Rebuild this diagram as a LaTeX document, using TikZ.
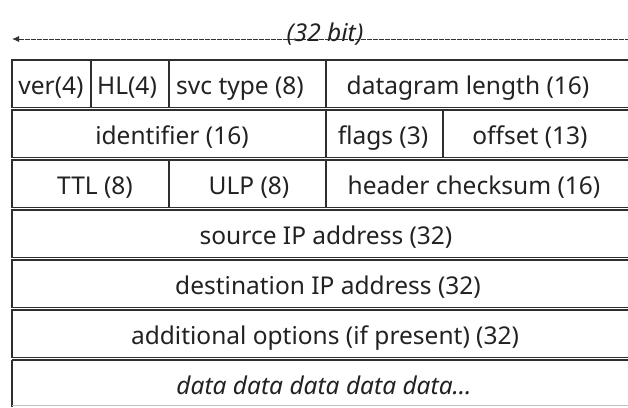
\documentclass[tikz,border=0pt]{standalone}
\usepackage{fontspec}
\setmainfont{Noto Sans}
\usetikzlibrary{arrows.meta}
\definecolor{linegray}{HTML}{2E2E2E}
\definecolor{textgray}{HTML}{222222}

\begin{document}
\begin{tikzpicture}[x=1pt, y=-1pt, font=\fontsize{24.5}{28}\selectfont]
	\tikzstyle{cell}=[draw=linegray, line width=1.2pt]
	\tikzstyle{lbl}=[anchor=base, inner sep=0pt, text=textgray]
	\tikzstyle{ruler}=[draw=black!80, line width=0.9pt, dash pattern=on 0.7pt off 0.5pt]
	\useasboundingbox (0,0) rectangle (628,407);

	% width ruler
	\coordinate (wl) at (12,39);
	\coordinate (wr) at (640,39);
	\draw[ruler, {Latex[length=7pt,width=6pt]}-{Latex[length=7pt,width=6pt]}] (wl) -- (wr);
	\node[lbl, font=\fontsize{24.5}{28}\selectfont\itshape] (bits) at (325,41) {(32 bit)};

	% rows
	\foreach \t in {60,110,...,310}
		\draw[cell] (12,\t) rectangle (640,\t+47.6);
	\draw[cell] (12,360) -- (640,360);
	\draw[cell] (12,360) -- (12,407);
	\draw[draw=black!25, line width=1.2pt] (12,405.5) -- (640,405.5);

	% field borders
	\draw[cell] (91,60) -- (91,107.6) (169,60) -- (169,107.6) (326,60) -- (326,107.6);
	\draw[cell] (326,110) -- (326,157.6) (443,110) -- (443,157.6);
	\draw[cell] (169,160) -- (169,207.6) (326,160) -- (326,207.6);

	% fields
	\node[lbl] (ver) at (51,94) {ver(4)};
	\node[lbl] (hl) at (127,94) {HL(4)};
	\node[lbl] (svc) at (240,94) {svc type (8)};
	\node[lbl] (dglen) at (468,94) {datagram length (16)};

	\node[lbl] (ident) at (172,144) {identifier (16)};
	\node[lbl] (flags) at (383,144) {flags (3)};
	\node[lbl] (offset) at (530,144) {offset (13)};

	\node[lbl] (ttl) at (95,194) {TTL (8)};
	\node[lbl] (ulp) at (249,194) {ULP (8)};
	\node[lbl] (hcsum) at (474,194) {header checksum (16)};

	\node[lbl] (srcip) at (326,244) {source IP address (32)};
	\node[lbl] (dstip) at (328,294) {destination IP address (32)};
	\node[lbl] (opts) at (325,344) {additional options (if present) (32)};
	\node[lbl, font=\fontsize{24.5}{28}\selectfont\itshape] (data) at (324,394) {data data data data data…};
\end{tikzpicture}
\end{document}
